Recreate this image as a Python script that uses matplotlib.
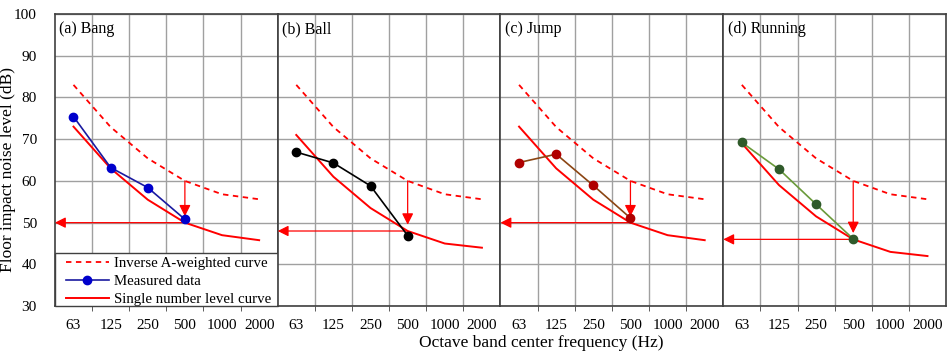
import matplotlib.pyplot as plt
from matplotlib.patches import Rectangle
from matplotlib.ticker import FixedLocator

plt.rcParams['font.family'] = ['Liberation Serif', 'DejaVu Serif']

freqs = ['63', '125', '250', '500', '1000', '2000']
inverse_a = [83, 72.9, 65.4, 60, 56.8, 55.6]

titles = ['(a) Bang', '(b) Ball', '(c) Jump', '(d) Running']
measured = [
    [75.4, 63.2, 58.4, 50.8],
    [66.9, 64.3, 58.8, 46.9],
    [64.4, 66.4, 58.9, 51.1],
    [69.2, 62.8, 54.4, 46.1],
]
single_curves = [
    [73, 63, 55.5, 50, 47, 45.8],
    [71, 61, 53.5, 48, 45, 44],
    [73, 63, 55.5, 50, 47, 45.8],
    [69, 59, 51.5, 46, 43, 42],
]
single_levels = [50, 48, 50, 46]

line_colors = ['#1a1aa0', 'black', '#8b4513', '#6a9a3a']
marker_colors = ['#0000cc', 'black', '#b00000', '#2f5a2a']

x = list(range(len(freqs)))

fig, axes = plt.subplots(1, 4, figsize=(9.47, 3.56), dpi=100, sharey=True)
fig.subplots_adjust(left=0.058, right=0.999, bottom=0.14, top=0.961, wspace=0)

for i, ax in enumerate(axes):
    ax.plot(x, inverse_a, color='red', lw=1.3, ls=(0, (3, 2.5)), label='Inverse A-weighted curve')
    ax.plot(x[:4], measured[i], color=line_colors[i], lw=1.2, marker='o', ms=6,
            mfc=marker_colors[i], mec=marker_colors[i], label='Measured data', zorder=4)
    ax.plot(x, single_curves[i], color='red', lw=1.4, label='Single number level curve', zorder=3)

    lvl = single_levels[i]
    ax.annotate('', xy=(3, lvl + 1.5), xytext=(3, inverse_a[3]),
                arrowprops=dict(arrowstyle='-|>', color='red', lw=0.9, mutation_scale=17,
                                shrinkA=0, shrinkB=0))
    ax.annotate('', xy=(-0.5, lvl), xytext=(3, lvl),
                arrowprops=dict(arrowstyle='-|>', color='red', lw=0.9, mutation_scale=16,
                                shrinkA=0, shrinkB=0))

    ax.set_xlim(-0.5, 5.5)
    ax.set_ylim(30, 100)
    ax.set_xticks(x)
    ax.set_xticklabels(freqs, fontsize=11)
    ax.xaxis.set_minor_locator(FixedLocator([0.5, 1.5, 2.5, 3.5, 4.5]))
    ax.tick_params(axis='x', which='major', length=0, pad=9)
    ax.tick_params(axis='x', which='minor', length=3.5, direction='out', color='#404040')
    ax.tick_params(axis='y', length=0, labelsize=11, pad=13)
    ax.set_yticks(range(30, 101, 10))
    ax.grid(axis='x', which='minor', color='#a0a0a0', lw=1)
    ax.grid(axis='y', which='major', color='#a0a0a0', lw=1)
    ax.set_axisbelow(True)
    for s in ax.spines.values():
        s.set_color('#404040')
        s.set_linewidth(1.2)
    ax.text(0.02, 0.975, titles[i], transform=ax.transAxes, fontsize=11.5, va='top', ha='left')

axes[0].set_ylabel('Floor impact noise level (dB)', fontsize=12.5)
axes[0].yaxis.set_label_coords(-0.175, 0.466)
fig.text(0.572, 0.037, 'Octave band center frequency (Hz)', fontsize=12.5, ha='center', va='center')

# legend box spanning the full width of the first panel
ax0 = axes[0]
ax0.add_patch(Rectangle((0, 0), 1, 0.182, transform=ax0.transAxes, facecolor='white',
                        edgecolor='#404040', lw=1.0, zorder=5, clip_on=False))
leg = ax0.legend(loc='lower left', bbox_to_anchor=(0.036, -0.009), borderaxespad=0,
                 fontsize=10.7, frameon=False, handlelength=2.9, labelspacing=0.3,
                 borderpad=0.2, handletextpad=0.35)
leg.set_zorder(6)

plt.savefig('out.png', dpi=100)
